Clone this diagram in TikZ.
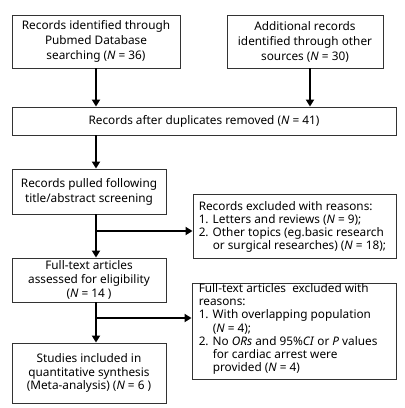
\documentclass[tikz,border=0pt]{standalone}
\usepackage{fontspec}
\setmainfont{Noto Sans}
\usetikzlibrary{arrows.meta}
\begin{document}
\begin{tikzpicture}[x=1pt,y=-1pt,
  box/.style={draw=black!80,line width=0.9pt,inner sep=0pt,align=center,
    font=\fontsize{11.8}{15}\selectfont},
  ebox/.style={draw=black!80,line width=0.9pt,inner sep=0pt},
  txt/.style={inner sep=0pt,align=left,anchor=west,
    font=\fontsize{11.8}{13.2}\selectfont},
  arr/.style={line width=2.4pt,-{Triangle[length=7pt,width=8pt]}}]
\useasboundingbox[fill=white] (0,0) rectangle (405,408);
\node[box,minimum width=168pt,minimum height=53pt] (b1) at (96,41.5)
  {Records identified through\\Pubmed Database\\searching (\textit{N} = 36)};
\node[box,minimum width=156pt,minimum height=53pt] (b2) at (305,41.5)
  {Additional records\\identified through other\\sources (\textit{N} = 30)};
\node[box,minimum width=384pt,minimum height=28pt] (b3) at (204,121)
  {Records after duplicates removed (\textit{N} = 41)};
\node[box,minimum width=154pt,minimum height=45pt] (b4) at (89,191.5)
  {Records pulled following\\title/abstract screening};
\node[ebox,minimum width=203pt,minimum height=64pt] (b5) at (294.5,226) {};
\node[txt] (t5) at ([xshift=6pt,yshift=-1pt]b5.west)
  {Records excluded with reasons:\\1. Letters and reviews (\textit{N} = 9);\\2. Other topics (eg.basic research\\\phantom{2. }or surgical researches) (\textit{N} = 18);};
\node[box,minimum width=154pt,minimum height=44pt,font=\fontsize{11.8}{14}\selectfont] (b6) at (89,280)
  {Full-text articles\\assessed for eligibility\\(\textit{N} = 14 )};
\node[ebox,minimum width=204pt,minimum height=96pt] (b7) at (294,331) {};
\node[txt] (t7) at ([xshift=7pt,yshift=2pt]b7.west)
  {Full-text articles\ \ excluded with\\reasons:\\1. With overlapping population\\\phantom{1. }(\textit{N} = 4);\\2. No \textit{ORs} and 95\%\textit{CI} or \textit{P} values\\\phantom{2. }for cardiac arrest were\\\phantom{2. }provided (\textit{N} = 4)};
\node[box,minimum width=154pt,minimum height=60pt,font=\fontsize{11.8}{13.5}\selectfont] (b8) at (89,373)
  {Studies included in\\quantitative synthesis\\(Meta-analysis) (\textit{N} = 6 )};
\coordinate (ax) at (96,0);
\coordinate (bx) at (310,0);
\coordinate (j1) at (96,231);
\coordinate (j2) at (96,318);
\draw[arr] (b1.south) -- (b1.south |- b3.north);
\draw[arr] (b2.south -| bx) -- (bx |- b3.north);
\draw[arr] (ax |- b3.south) -- (ax |- b4.north);
\draw[arr] (ax |- b4.south) -- (ax |- b6.north);
\draw[arr] (j1) -- (j1 -| b5.west);
\draw[arr] (ax |- b6.south) -- (ax |- b8.north);
\draw[arr] (j2) -- (j2 -| b7.west);
\end{tikzpicture}
\end{document}
